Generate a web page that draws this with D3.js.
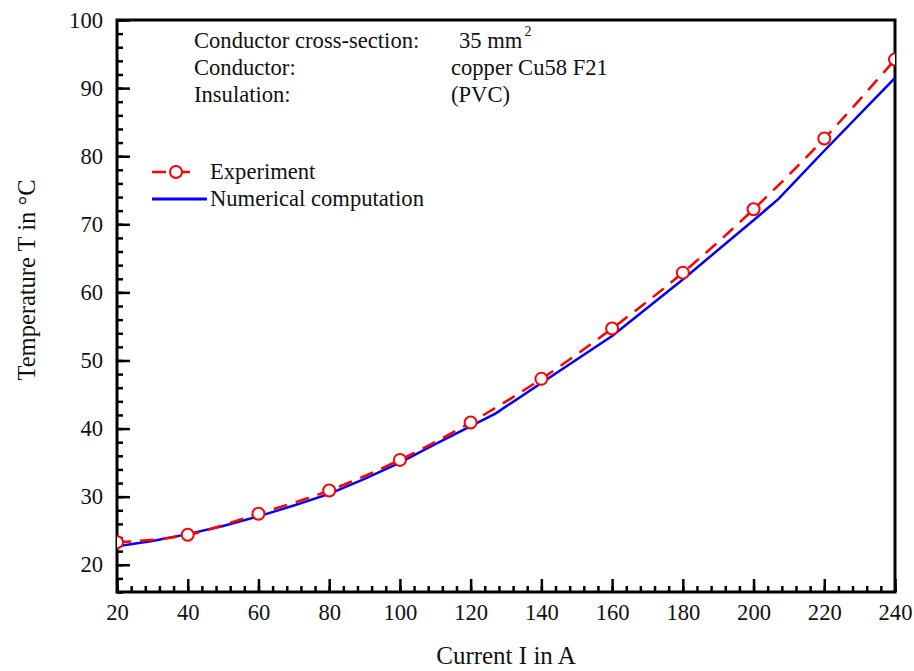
<!DOCTYPE html>
<html lang="en">
<head>
	<meta charset="UTF-8">
	<script src="https://d3js.org/d3.v7.min.js"></script>
	<title>Temperature vs current</title>
</head>
<style>
	body {
		margin: 0;
		background: #fff;
	}
	text {
		font-family: "Liberation Serif", "Times New Roman", serif;
		fill: #111;
	}
</style>
<body>
	<svg width="914" height="671"></svg>
</body>
<script>
	// data
	var expCurrent = [20, 40, 60, 80, 100, 120, 140, 160, 180, 200, 220, 240];
	var expTemp = [23.3, 24.4, 27.5, 30.9, 35.4, 40.9, 47.3, 54.7, 62.9, 72.2, 82.6, 94.2];

	var numCurrent = [20, 30, 40, 50, 60, 70, 80, 90, 100, 110, 127, 140, 160, 180, 200, 207, 220, 240];
	var numTemp = [22.7, 23.5, 24.5, 25.7, 27.1, 28.7, 30.4, 32.6, 35.0, 37.7, 42.2, 46.7, 53.6, 61.9, 70.6, 73.7, 80.8, 91.5];

	var xTicks = [20, 40, 60, 80, 100, 120, 140, 160, 180, 200, 220, 240];
	var yTicks = [20, 30, 40, 50, 60, 70, 80, 90, 100];

	var infoLabels = ["Conductor cross-section:", "Conductor:", "Insulation:"];
	var infoValues = ["35 mm", "copper Cu58 F21", "(PVC)"];

	var svg = d3.select('svg');
	var margin = {top: 20, right: 19, bottom: 79, left: 117};
	var width = +svg.attr('width') - margin.left - margin.right;
	var height = +svg.attr('height') - margin.top - margin.bottom;
	var fs = 22.6;

	var x = d3.scaleLinear().domain([20, 240]).range([0, width]);
	var y = d3.scaleLinear().domain([16, 100]).range([height, 0]);

	var g = svg.append('g')
		.attr('transform', 'translate(' + margin.left + ',' + margin.top + ')');

	g.append('clipPath').attr('id', 'plot-clip')
		.append('rect').attr('width', width).attr('height', height);

	// minor ticks
	g.append('g')
		.attr('transform', 'translate(0,' + height + ')')
		.call(d3.axisBottom(x).tickValues(d3.range(20, 241, 4)).tickSize(-6).tickFormat(''))
		.call(function(a){ a.select('.domain').remove(); })
		.selectAll('line').attr('stroke', '#000').attr('stroke-width', 2.5);

	g.append('g')
		.call(d3.axisLeft(y).tickValues(d3.range(16, 101, 2)).tickSize(-6).tickFormat(''))
		.call(function(a){ a.select('.domain').remove(); })
		.selectAll('line').attr('stroke', '#000').attr('stroke-width', 2.5);

	// major ticks + labels
	var xAxis = g.append('g')
		.attr('transform', 'translate(0,' + height + ')')
		.call(d3.axisBottom(x).tickValues(xTicks).tickSize(-13).tickPadding(12));
	xAxis.select('.domain').remove();
	xAxis.selectAll('line').attr('stroke', '#000').attr('stroke-width', 2.5);
	xAxis.selectAll('text').attr('font-size', fs).attr('font-family', '"Liberation Serif", serif').attr('fill', '#111');

	var yAxis = g.append('g')
		.call(d3.axisLeft(y).tickValues(yTicks).tickSize(-13).tickPadding(14));
	yAxis.select('.domain').remove();
	yAxis.selectAll('line').attr('stroke', '#000').attr('stroke-width', 2.5);
	yAxis.selectAll('text').attr('font-size', fs).attr('font-family', '"Liberation Serif", serif').attr('fill', '#111');

	// frame
	g.append('rect')
		.attr('width', width)
		.attr('height', height)
		.attr('fill', 'none')
		.attr('stroke', '#000')
		.attr('stroke-width', 3);

	var plot = g.append('g').attr('clip-path', 'url(#plot-clip)');

	var numLine = d3.line()
		.x(function(d){ return x(d[0]); })
		.y(function(d){ return y(d[1]); });

	plot.append('path')
		.datum(d3.zip(numCurrent, numTemp))
		.attr('d', numLine)
		.attr('fill', 'none')
		.attr('stroke', '#0000ff')
		.attr('stroke-width', 2.5);

	var expLine = d3.line()
		.curve(d3.curveMonotoneX)
		.x(function(d){ return x(d[0]); })
		.y(function(d){ return y(d[1]); });

	plot.append('path')
		.datum(d3.zip(expCurrent, expTemp))
		.attr('d', expLine)
		.attr('fill', 'none')
		.attr('stroke', '#ff0000')
		.attr('stroke-width', 2.5)
		.attr('stroke-dasharray', '14,9');

	plot.selectAll('circle.exp')
		.data(d3.zip(expCurrent, expTemp))
		.enter()
		.append('circle')
		.attr('class', 'exp')
		.attr('cx', function(d){ return x(d[0]); })
		.attr('cy', function(d){ return y(d[1]); })
		.attr('r', 6)
		.attr('fill', '#fff')
		.attr('stroke', '#ff0000')
		.attr('stroke-width', 2);

	// info block
	var info = svg.append('g').attr('font-size', fs);
	info.selectAll('text.lab')
		.data(infoLabels)
		.enter()
		.append('text')
		.attr('class', 'lab')
		.attr('x', 194)
		.attr('y', function(d, i){ return 48 + i * 27; })
		.text(function(d){ return d; });
	var vals = info.selectAll('text.val')
		.data(infoValues)
		.enter()
		.append('text')
		.attr('class', 'val')
		.attr('x', function(d, i){ return i === 0 ? 459 : 451; })
		.attr('y', function(d, i){ return 48 + i * 27; })
		.text(function(d){ return d; });
	vals.filter(function(d, i){ return i === 0; })
		.append('tspan')
		.attr('dx', 2)
		.attr('dy', -12)
		.attr('font-size', 14)
		.text('2');

	// legend
	var legend = svg.append('g');
	legend.append('line')
		.attr('x1', 152).attr('x2', 166).attr('y1', 172).attr('y2', 172)
		.attr('stroke', '#ff0000').attr('stroke-width', 2.5);
	legend.append('line')
		.attr('x1', 182).attr('x2', 190).attr('y1', 172).attr('y2', 172)
		.attr('stroke', '#ff0000').attr('stroke-width', 2.5);
	legend.append('circle')
		.attr('cx', 176).attr('cy', 172).attr('r', 6)
		.attr('fill', '#fff').attr('stroke', '#ff0000').attr('stroke-width', 2);
	legend.append('text')
		.attr('x', 210).attr('y', 179).attr('font-size', fs)
		.text('Experiment');
	legend.append('line')
		.attr('x1', 152).attr('x2', 207).attr('y1', 199).attr('y2', 199)
		.attr('stroke', '#0000ff').attr('stroke-width', 3);
	legend.append('text')
		.attr('x', 210).attr('y', 206).attr('font-size', fs)
		.text('Numerical computation');

	// axis titles
	svg.append('text')
		.attr('x', 506)
		.attr('y', 664)
		.attr('text-anchor', 'middle')
		.attr('font-size', 25)
		.text('Current I in A');

	svg.append('text')
		.attr('transform', 'translate(35,280) rotate(-90)')
		.attr('text-anchor', 'middle')
		.attr('font-size', 24.5)
		.text('Temperature T in °C');
</script>
</html>
